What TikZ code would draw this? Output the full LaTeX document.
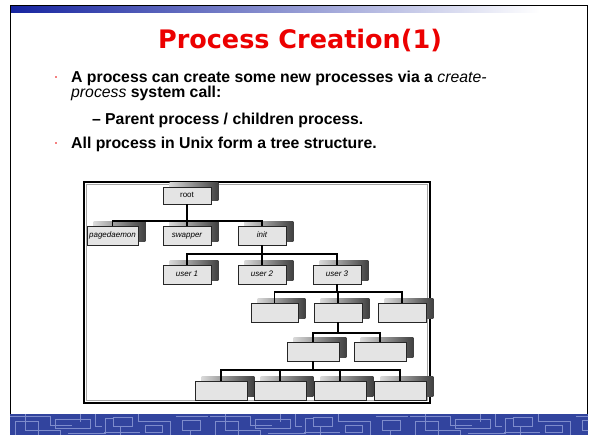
\documentclass[tikz,border=0pt]{standalone}
\usepackage{fontspec}
\setmainfont{Liberation Sans}
\newfontfamily\titlefont{DejaVu Sans}
\usetikzlibrary{backgrounds,calc}

\definecolor{slideblue}{RGB}{50,68,158}
\definecolor{traceblue}{RGB}{126,140,204}
\definecolor{titlered}{RGB}{236,0,0}
\definecolor{boxfill}{RGB}{228,228,228}
\definecolor{barblue}{RGB}{22,36,160}

% a tree box given by its corners (x1,y1) and (x2,y2)
\newcommand\procbox[6]{%
  \node[pbox, minimum width={(#4-#2)*1pt}, minimum height={(#5-#3)*1pt}]
    (#1) at ({(#2+#4)/2},{(#3+#5)/2}) {#6};}

\begin{document}
\begin{tikzpicture}[x=1pt,y=-1pt,
  pbox/.style={draw=black!85, line width=0.8pt, fill=boxfill, inner sep=0pt,
    text height=5pt, text depth=0pt,
    font=\fontsize{8}{8}\selectfont\itshape},
  conn/.style={line width=1.5pt, black},
  bodytext/.style={anchor=base west, inner sep=0pt,
    font=\fontsize{15.8}{15.8}\selectfont\bfseries},
  trace/.style={traceblue, line width=0.9pt},
]
\useasboundingbox (0,0) rectangle (589,435);

\begin{scope}[on background layer]
  \fill[white] (0,0) rectangle (589,435);
  % title bar gradient
  \shade[left color=barblue, right color=white] (11,6.5) rectangle (540,13);
  % diagram frame
  \draw[line width=2.4pt, black] (84,182) rectangle (430,403);
  \draw[line width=1.2pt, gray!70] (86.8,184.8) rectangle (427.2,400.2);
\end{scope}

% slide border
\draw[line width=1.5pt] (10.5,414) -- (10.5,5.5) -- (587.5,5.5) -- (587.5,414);

% footer band with circuit traces
\fill[slideblue] (10,414) rectangle (588,435);
\begin{scope}
  \clip (10,414) rectangle (588,435);
  \foreach \x in {10, 210, 410} {
    \begin{scope}[shift={(\x,0)}, trace]
      \draw (0,416) -- (40,416) -- (40,425) -- (62,425);
      \draw (5,421) rectangle (28,440);
      \draw (15,414) -- (15,430) -- (50,430) -- (50,435);
      \draw (45,419) rectangle (80,428);
      \draw (70,414) -- (70,422);
      \draw (58,433) -- (95,433) -- (95,418) -- (104,418);
      \draw (85,414) -- (85,426) -- (92,426);
    \end{scope}
  }
  \foreach \x in {110, 310, 510} {
    \begin{scope}[shift={(\x,0)}, trace]
      \draw (3,417) rectangle (22,426);
      \draw (10,426) -- (10,435);
      \draw (28,414) -- (28,421) -- (60,421) -- (60,435);
      \draw (35,425) rectangle (52,432);
      \draw (66,416) -- (98,416);
      \draw (72,420) rectangle (90,430);
      \draw (80,430) -- (80,435);
      \draw (-6,432) -- (30,432);
    \end{scope}
  }
\end{scope}

% title
\node[font=\titlefont\fontsize{25.5}{25.5}\selectfont\bfseries, text=titlered,
  anchor=base, inner sep=0pt] (title) at (300,48.5) {Process Creation(1)};

% bullet points
\fill[titlered] (56,77) circle (0.8);
\fill[titlered] (56,143) circle (0.8);
\node[bodytext] (l1) at (71,83)
  {A process can create some new processes via a {\mdseries\itshape create-}};
\node[bodytext] (l2) at (71,98) {{\mdseries\itshape process} system call:};
\node[bodytext] (dash) at (92,125) {--};
\node[bodytext] (l3) at (105,125) {Parent process / children process.};
\node[bodytext] (l4) at (71,148.5) {All process in Unix form a tree structure.};

% process tree
\node[pbox, font=\fontsize{8}{8}\selectfont, minimum width=48pt, minimum height=17pt]
  (root) at (187,195.5) {root};
\procbox{pd}{87}{226}{138}{245}{pagedaemon}
\procbox{sw}{163}{226}{211}{245}{swapper}
\procbox{init}{238}{226}{286}{245}{init}
\procbox{u1}{163}{265}{211}{284}{user 1}
\procbox{u2}{238}{265}{286}{284}{user 2}
\procbox{u3}{313}{265}{361}{284}{user 3}
\procbox{a1}{251}{303}{298}{322}{}
\procbox{a2}{314}{303}{362}{322}{}
\procbox{a3}{378}{303}{426}{322}{}
\procbox{b1}{287}{342}{339}{361}{}
\procbox{b2}{354}{342}{406}{361}{}
\procbox{c1}{195}{381}{247}{400}{}
\procbox{c2}{254}{381}{306}{400}{}
\procbox{c3}{314}{381}{366}{400}{}
\procbox{c4}{374}{381}{426}{400}{}

% drop shadows behind the boxes
\begin{scope}[on background layer]
  \foreach \n in {root,pd,sw,init,u1,u2,u3,a1,a2,a3,b1,b2,c1,c2,c3,c4}
    \shade[left color=gray!30, right color=black!75]
      ($(\n.south west)+(7,-4)$) rectangle ($(\n.north east)+(7,-4)$);
\end{scope}

% branch levels
\coordinate (bar1) at (0,221);
\coordinate (bar2) at (0,254);
\coordinate (bar3) at (0,292);
\coordinate (bar4) at (0,333);
\coordinate (bar5) at (0,370);

\draw[conn] (root.south) -- (root.south |- bar1);
\draw[conn] (pd.north) |- (init.north |- bar1) -- (init.north);
\draw[conn] (sw.north) -- (sw.north |- bar1);

\draw[conn] (init.south) -- (init.south |- bar2);
\draw[conn] (u1.north) |- (u3.north |- bar2) -- (u3.north);
\draw[conn] (u2.north) -- (u2.north |- bar2);

\draw[conn] (u3.south) -- (u3.south |- bar3);
\draw[conn] (a1.north) |- (a3.north |- bar3) -- (a3.north);
\draw[conn] (a2.north) -- (a2.north |- bar3);

\draw[conn] (a2.south) -- (a2.south |- bar4);
\draw[conn] (b1.north) |- (b2.north |- bar4) -- (b2.north);

\draw[conn] (b1.south) -- (b1.south |- bar5);
\draw[conn] (c1.north) |- (c4.north |- bar5) -- (c4.north);
\draw[conn] (c2.north) -- (c2.north |- bar5);
\draw[conn] (c3.north) -- (c3.north |- bar5);
\end{tikzpicture}
\end{document}
